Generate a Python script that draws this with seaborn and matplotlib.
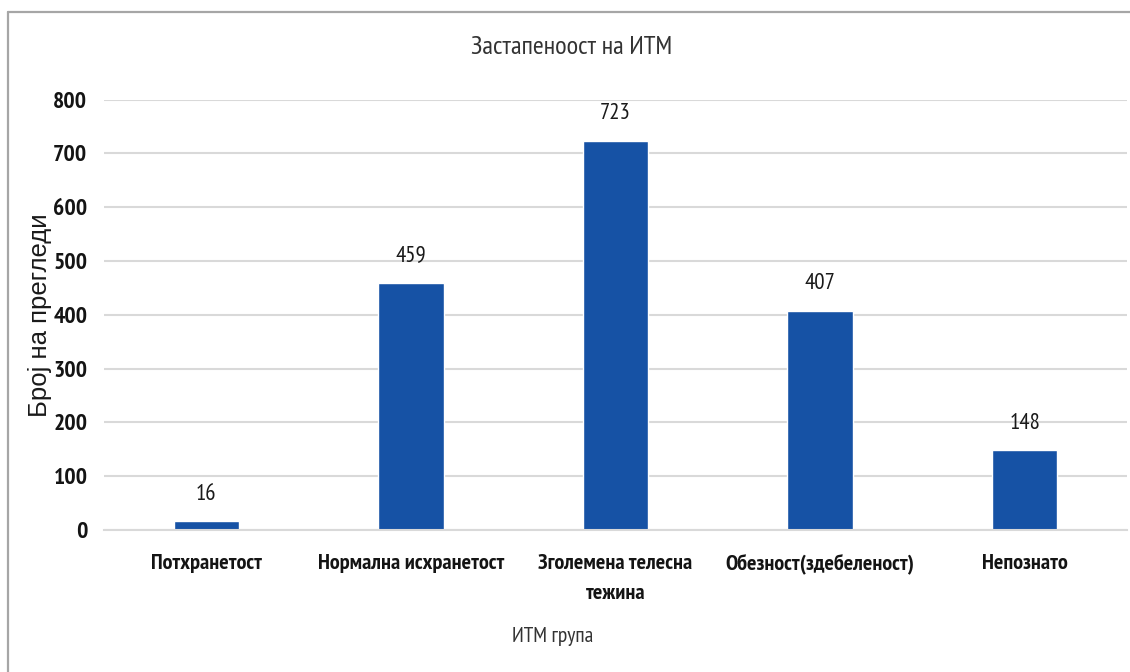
import matplotlib
matplotlib.use("Agg")
import matplotlib.pyplot as plt
from matplotlib.lines import Line2D
import seaborn as sns
import pandas as pd

# BMI groups and number of examinations
categories = ["Потхранетост", "Нормална исхранетост", "Зголемена телесна\nтежина",
              "Обезност(здебеленост)", "Непознато"]
counts = [16, 459, 723, 407, 148]
y_ticks = [0, 100, 200, 300, 400, 500, 600, 700, 800]

title = "Застапеноост на ИТМ"
x_label = "ИТМ група"
y_label = "Број на прегледи"

sns.set_theme(style="white")
narrow = ["PT Sans Narrow", "DejaVu Sans"]
wide = ["Liberation Sans", "DejaVu Sans"]
plt.rcParams["font.family"] = narrow

W, H = 1130, 672
fig = plt.figure(figsize=(W / 100, H / 100), dpi=100)
fig.patch.set_facecolor("white")

ax = fig.add_axes([104 / W, 1 - 530 / H, (1127 - 104) / W, (530 - 99.5) / H])

df = pd.DataFrame({"group": categories, "count": counts})
sns.barplot(data=df, x="group", y="count", color="#1652a5", saturation=1,
            width=0.32, ax=ax)

ax.set_ylim(0, 800)
ax.set_yticks(y_ticks)
ax.set_xlim(-0.5, len(categories) - 0.5)
ax.yaxis.grid(True, color="#d9d9d9", linewidth=1.5)
ax.set_axisbelow(True)
for s in ["top", "right", "left"]:
    ax.spines[s].set_visible(False)
ax.spines["bottom"].set_color("#d9d9d9")
ax.spines["bottom"].set_linewidth(1.5)
ax.tick_params(axis="both", length=0)
ax.tick_params(axis="y", pad=12)
ax.tick_params(axis="x", pad=17)

for lbl in ax.get_yticklabels():
    lbl.set_fontsize(17)
    lbl.set_fontweight("bold")
    lbl.set_color("#141414")
for lbl in ax.get_xticklabels():
    lbl.set_fontsize(16)
    lbl.set_fontweight("bold")
    lbl.set_color("#141414")
    lbl.set_linespacing(1.75)

ax.set_xlabel("")
ax.set_ylabel("")

for cont in ax.containers:
    ax.bar_label(cont, labels=[str(v) for v in counts], padding=12,
                 fontsize=16.5, color="#1a1a1a")

fig.text(572 / W, 1 - 48 / H, title, ha="center", va="center",
         fontsize=19, color="#333333")
fig.text(553 / W, 1 - 637 / H, x_label, ha="center", va="center",
         fontsize=15.5, color="#333333")
fig.text(40 / W, 1 - 315 / H, y_label, ha="center", va="center",
         rotation=90, fontsize=18.5, color="#1a1a1a", family=wide)

# outer chart frame (left and top edges)
frame_kw = dict(color="#a6a6a6", linewidth=1.6, transform=None)
fig.add_artist(Line2D([8, 8], [0, H - 12], **frame_kw))
fig.add_artist(Line2D([8, W], [H - 12, H - 12], **frame_kw))

fig.savefig("out.png", dpi=100, facecolor="white")
